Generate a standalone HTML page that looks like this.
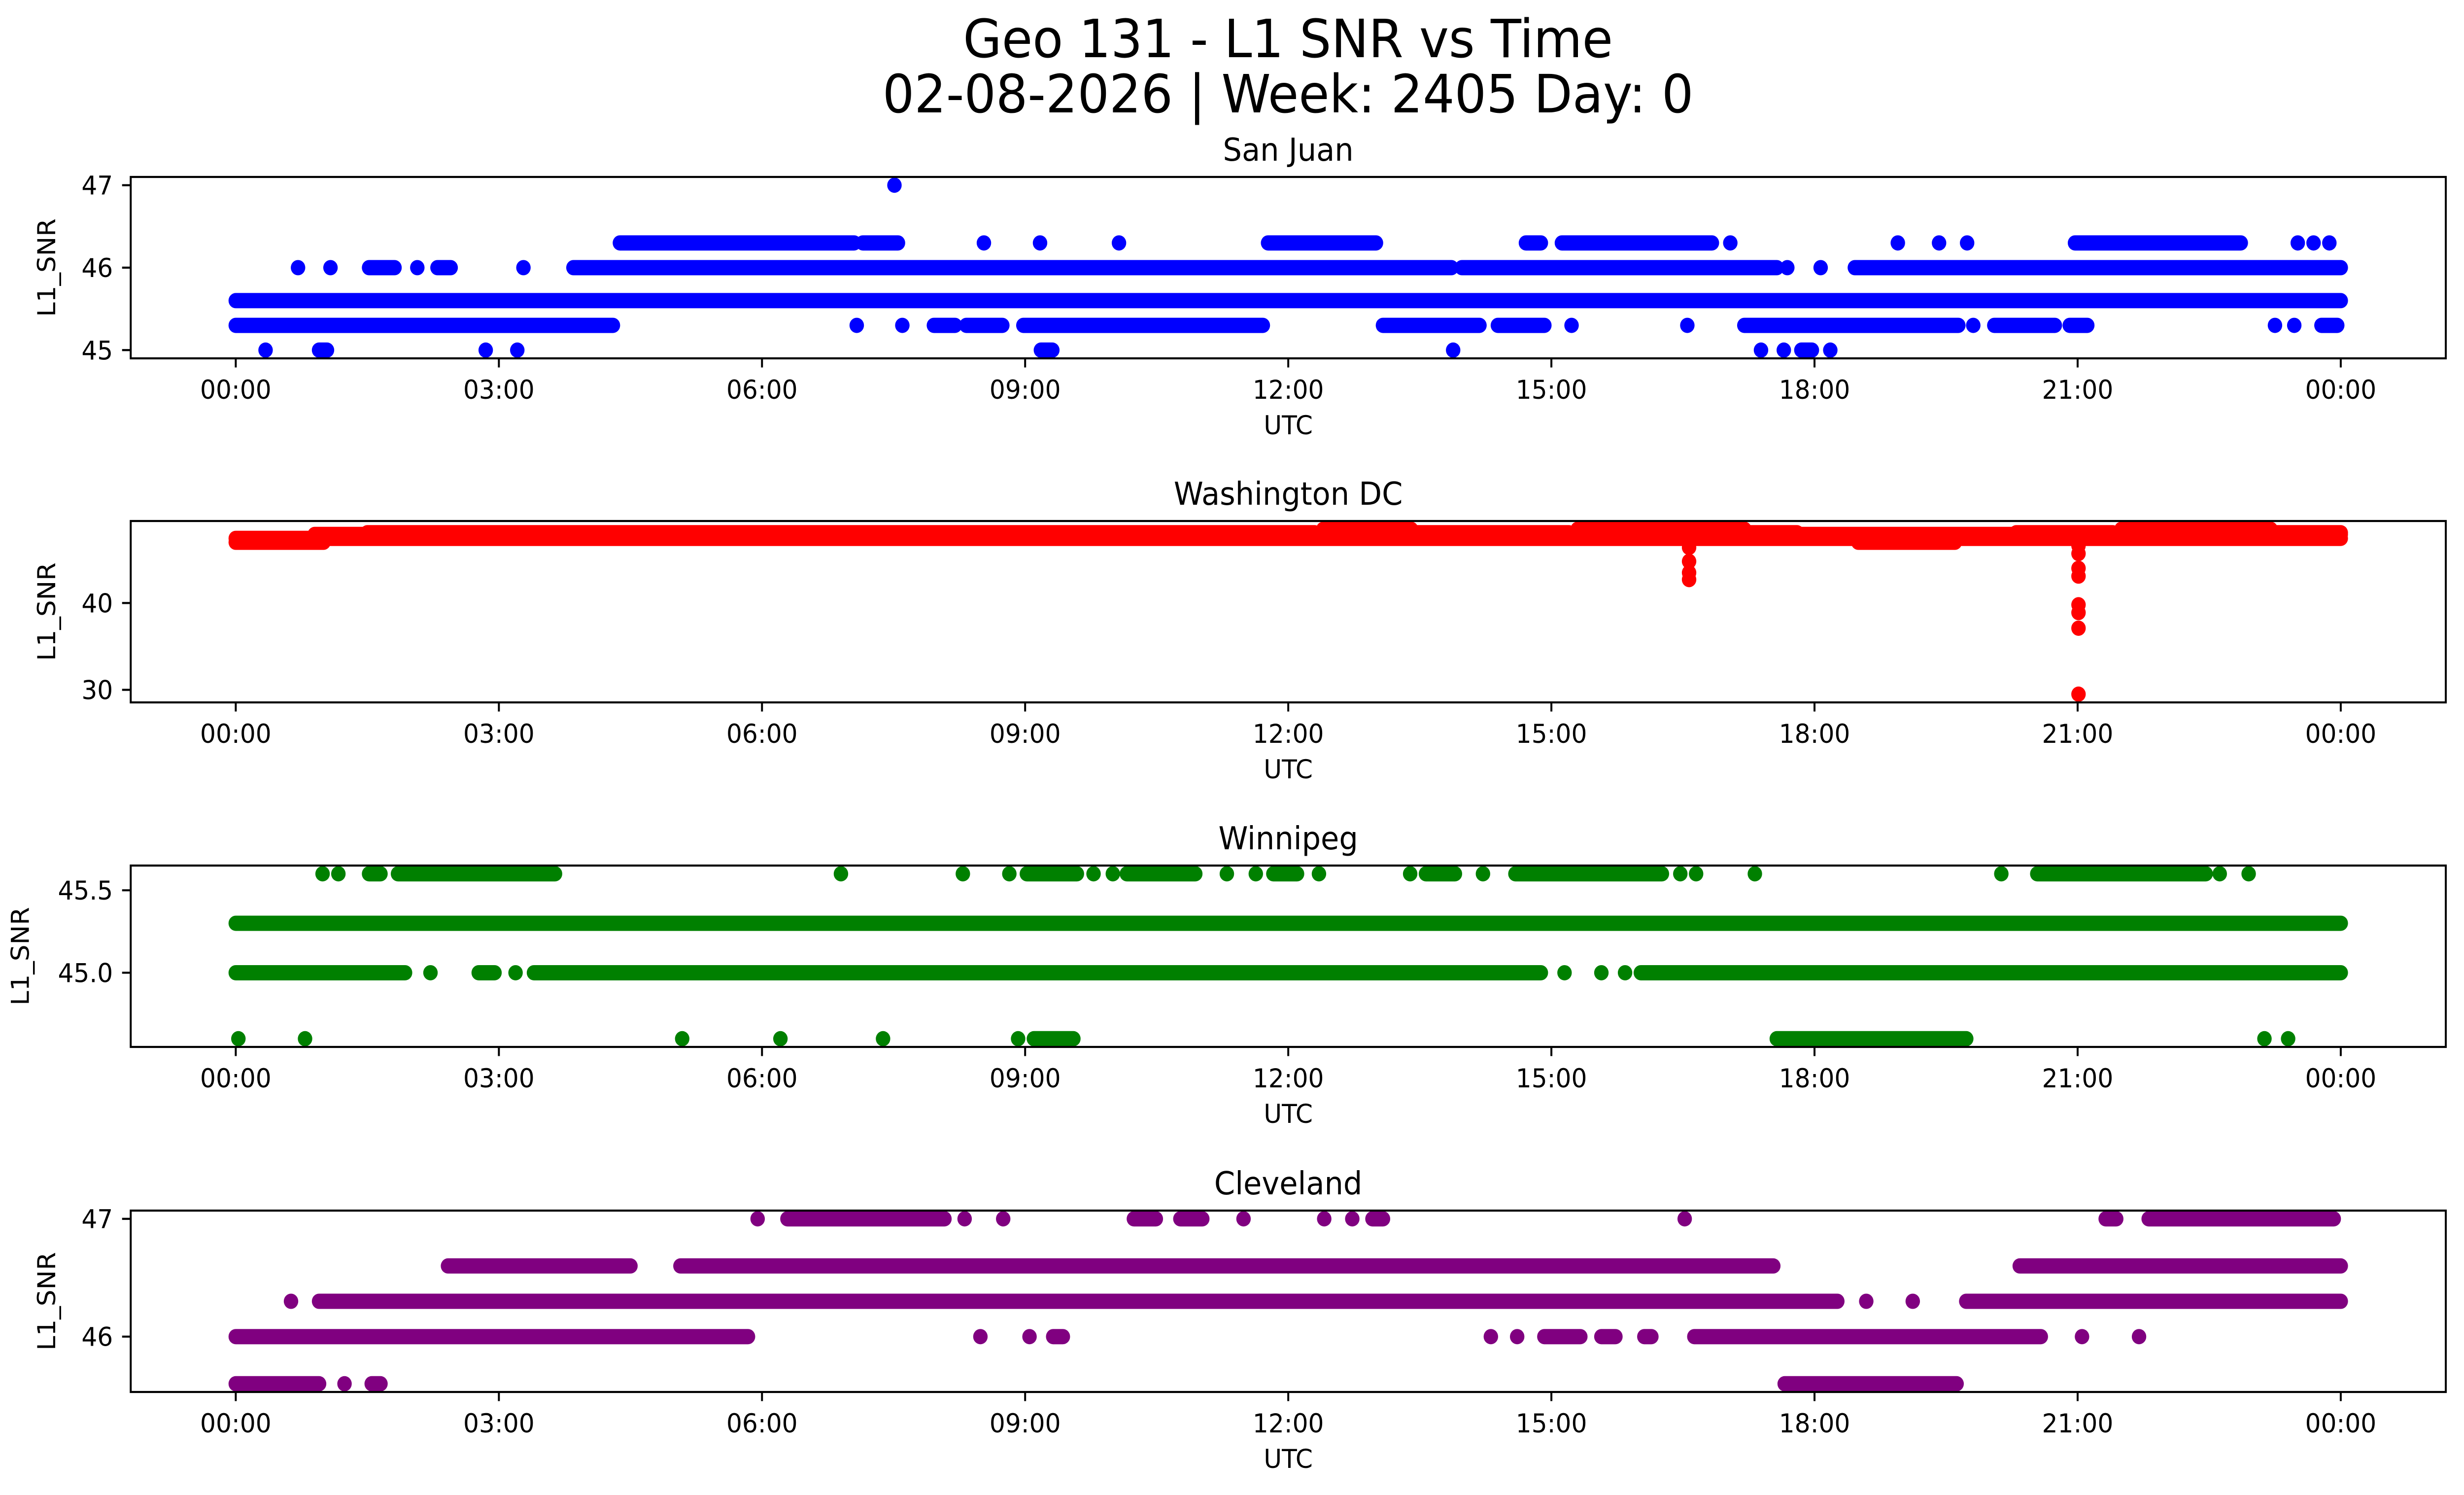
<!DOCTYPE html>
<html>
<head>
<meta charset="utf-8">
<meta name="viewport" content="width=5278, initial-scale=1">
<style>
  html,body{margin:0;padding:0;background:#fff;overflow:hidden;width:100vw;height:100vh;}
  svg{display:block;width:100vw;height:100vh;}
  text{font-family:"DejaVu Sans","Liberation Sans",sans-serif;fill:#000;}
</style>
</head>
<body>
<svg id="fig" viewBox="0 0 5278 3033" preserveAspectRatio="none" xmlns="http://www.w3.org/2000/svg">
  <rect x="0" y="0" width="5278" height="3033" fill="#fff"/>
  <text x="2759" y="116" font-size="107" text-anchor="middle">Geo 131 - L1 SNR vs Time</text>
  <text x="2759" y="228" font-size="107" text-anchor="middle">02-08-2026 | Week: 2405 Day: 0</text>
  <g id="panels"></g>
</svg>
<script>
// ---- shared axis data ----
const xTickHours = [0, 3, 6, 9, 12, 15, 18, 21, 24];
const xTickLabels = ["00:00","03:00","06:00","09:00","12:00","15:00","18:00","21:00","00:00"];

// ---- San Juan (blue) : runs of consecutive samples [startHour, endHour] per SNR level ----
const sjLevels = [45.0, 45.3, 45.6, 46.0, 46.3, 47.0];
const sjRuns45_0 = [[0.34,0.34],[0.95,1.04],[2.85,2.85],[3.21,3.21],[9.18,9.31],[13.88,13.88],[17.39,17.39],[17.65,17.65],[17.85,17.97],[18.18,18.18]];
const sjRuns45_3 = [[0,4.3],[7.08,7.08],[7.6,7.6],[7.96,8.2],[8.33,8.74],[8.98,11.71],[13.08,14.18],[14.39,14.92],[15.23,15.23],[16.55,16.55],[17.2,19.64],[19.81,19.81],[20.05,20.74],[20.91,21.11],[23.25,23.25],[23.47,23.47],[23.78,23.96]];
const sjRuns45_6 = [[0,24]];
const sjRuns46_0 = [[0.71,0.71],[1.08,1.08],[1.52,1.81],[2.07,2.07],[2.3,2.45],[3.28,3.28],[3.85,13.86],[13.98,17.57],[17.69,17.69],[18.07,18.07],[18.46,24]];
const sjRuns46_3 = [[4.38,7.05],[7.15,7.55],[8.53,8.53],[9.17,9.17],[10.07,10.07],[11.77,13.0],[14.71,14.88],[15.12,16.83],[17.04,17.04],[18.95,18.95],[19.42,19.42],[19.74,19.74],[20.97,22.86],[23.51,23.51],[23.69,23.69],[23.87,23.87]];
const sjRuns47_0 = [[7.51,7.51]];
const sjRuns = [sjRuns45_0, sjRuns45_3, sjRuns45_6, sjRuns46_0, sjRuns46_3, sjRuns47_0];
const sjYTicks = [45, 46, 47];
const sjYTickLabels = ["45","46","47"];

// ---- Washington DC (red) ----
const dcLevels = [47.0, 47.45, 47.9, 48.1, 48.5];
const dcRuns47_0 = [[0,1.0],[18.5,19.6]];
const dcRuns47_45 = [[0,24]];
const dcRuns47_9 = [[0.9,24]];
const dcRuns48_1 = [[1.5,12.3],[13.4,15.2],[17.2,17.8],[20.3,21.4],[23.2,24]];
const dcRuns48_5 = [[12.4,13.4],[15.3,17.2],[21.5,23.2]];
const dcRuns = [dcRuns47_0, dcRuns47_45, dcRuns47_9, dcRuns48_1, dcRuns48_5];
const dcDipHours = [16.57,16.57,16.57,16.57,21.01,21.01,21.01,21.01,21.01,21.01,21.01,21.01];
const dcDipValues = [46.4,44.8,43.5,42.7,46.6,45.7,44.0,43.1,39.8,38.9,37.1,29.5];
const dcYTicks = [30, 40];
const dcYTickLabels = ["30","40"];

// ---- Winnipeg (green) ----
const wpLevels = [44.6, 45.0, 45.3, 45.6];
const wpRuns44_6 = [[0.03,0.03],[0.79,0.79],[5.09,5.09],[6.21,6.21],[7.38,7.38],[8.92,8.92],[9.1,9.55],[17.57,19.73],[23.13,23.13],[23.4,23.4]];
const wpRuns45_0 = [[0,1.93],[2.22,2.22],[2.77,2.95],[3.19,3.19],[3.4,14.88],[15.15,15.15],[15.57,15.57],[15.84,15.84],[16.02,24]];
const wpRuns45_3 = [[0,24]];
const wpRuns45_6 = [[0.99,0.99],[1.17,1.17],[1.52,1.65],[1.85,3.64],[6.9,6.9],[8.29,8.29],[8.82,8.82],[9.02,9.59],[9.78,9.78],[10.0,10.0],[10.16,10.94],[11.3,11.3],[11.63,11.63],[11.83,12.1],[12.35,12.35],[13.39,13.39],[13.57,13.9],[14.22,14.22],[14.59,16.26],[16.47,16.47],[16.65,16.65],[17.32,17.32],[20.13,20.13],[20.54,22.46],[22.62,22.62],[22.95,22.95]];
const wpRuns = [wpRuns44_6, wpRuns45_0, wpRuns45_3, wpRuns45_6];
const wpYTicks = [45.0, 45.5];
const wpYTickLabels = ["45.0","45.5"];

// ---- Cleveland (purple) ----
const clLevels = [45.6, 46.0, 46.3, 46.6, 47.0];
const clRuns45_6 = [[0,0.95],[1.24,1.24],[1.55,1.65],[17.66,19.62]];
const clRuns46_0 = [[0,5.84],[8.49,8.49],[9.05,9.05],[9.32,9.43],[14.31,14.31],[14.61,14.61],[14.92,15.33],[15.57,15.73],[16.06,16.14],[16.63,20.58],[21.05,21.05],[21.7,21.7]];
const clRuns46_3 = [[0.63,0.63],[0.95,18.26],[18.59,18.59],[19.12,19.12],[19.73,24]];
const clRuns46_6 = [[2.42,4.5],[5.07,17.53],[20.34,24]];
const clRuns47_0 = [[5.95,5.95],[6.29,8.08],[8.31,8.31],[8.75,8.75],[10.24,10.49],[10.77,11.02],[11.49,11.49],[12.41,12.41],[12.73,12.73],[12.96,13.08],[16.52,16.52],[21.32,21.44],[21.81,23.92]];
const clRuns = [clRuns45_6, clRuns46_0, clRuns46_3, clRuns46_6, clRuns47_0];
const clYTicks = [46, 47];
const clYTickLabels = ["46","47"];

// ---- layout ----
const NS = "http://www.w3.org/2000/svg";
const AX_L = 280, AX_R = 5239, AX_H = 368, R = 15.5;
const X0 = 505, X24 = 5014;
function xScale(h){ return X0 + h * (X24 - X0) / 24; }

function mk(tag, attrs, parent){
  const el = document.createElementNS(NS, tag);
  for (const k in attrs) el.setAttribute(k, attrs[k]);
  parent.appendChild(el);
  return el;
}

function drawPanel(opts){
  const root = document.getElementById("panels");
  const g = mk("g", {}, root);
  
  
  const top = opts.top, bottom = top + AX_H;

  let vals = opts.levels.slice();
  if (opts.extraValues) vals = vals.concat(opts.extraValues);
  const mn = Math.min.apply(null, vals), mx = Math.max.apply(null, vals);
  const pad = (mx - mn) * 0.05;
  const lo = mn - pad, hi = mx + pad;
  const yScale = v => bottom - (v - lo) / (hi - lo) * AX_H;

  const clipId = "clip-" + opts.slug;
  const cp = mk("clipPath", {id: clipId}, g);
  mk("rect", {x: AX_L, y: top, width: AX_R - AX_L, height: AX_H}, cp);

  const marks = mk("g", {"clip-path": "url(#" + clipId + ")"}, g);
  
  

  opts.levels.forEach((lv, i) => {
    const y = yScale(lv);
    opts.runs[i].forEach(run => {
      if (run[0] === run[1]) {
        const c = mk("circle", {cx: xScale(run[0]), cy: y, r: R, fill: opts.color}, marks);
        
        
      } else {
        const l = mk("line", {x1: xScale(run[0]), y1: y, x2: xScale(run[1]), y2: y, stroke: opts.color, "stroke-width": 2 * R, "stroke-linecap": "round"}, marks);
        
        
      }
    });
  });
  if (opts.extraHours) {
    opts.extraHours.forEach((h, i) => {
      const c = mk("circle", {cx: xScale(h), cy: yScale(opts.extraValues[i]), r: R, fill: opts.color}, marks);
      
      
    });
  }

  const frame = mk("rect", {x: AX_L, y: top, width: AX_R - AX_L, height: AX_H, fill: "none", stroke: "#000", "stroke-width": 4.2}, g);
  
  

  const xt = mk("g", {}, g);
  
  
  xTickHours.forEach((h, i) => {
    const x = xScale(h);
    mk("line", {x1: x, y1: bottom, x2: x, y2: bottom + 18.5, stroke: "#000", "stroke-width": 4.2}, xt);
    const t = mk("text", {x: x, y: bottom + 82, "font-size": 53, "text-anchor": "middle"}, xt);
    t.textContent = xTickLabels[i];
    
    
  });
  const xl = mk("text", {x: (AX_L + AX_R) / 2, y: bottom + 154, "font-size": 53, "text-anchor": "middle"}, g);
  xl.textContent = "UTC";
  
  

  const yt = mk("g", {}, g);
  
  
  opts.yTicks.forEach((v, i) => {
    const y = yScale(v);
    mk("line", {x1: AX_L, y1: y, x2: AX_L - 18.5, y2: y, stroke: "#000", "stroke-width": 4.2}, yt);
    const t = mk("text", {x: AX_L - 38, y: y + 19, "font-size": 53, "text-anchor": "end"}, yt);
    t.textContent = opts.yTickLabels[i];
    
    
  });
  const yl = mk("text", {x: 0, y: 0, "font-size": 53, "text-anchor": "middle", transform: "translate(" + opts.ylabelX + "," + (top + AX_H / 2) + ") rotate(-90)"}, g);
  yl.textContent = "L1_SNR";
  
  

  const tt = mk("text", {x: (AX_L + AX_R) / 2, y: top - 33, "font-size": 64, "text-anchor": "middle"}, g);
  tt.textContent = opts.title;
  
  
}

drawPanel({slug: "san-juan", title: "San Juan", top: 359, color: "#0000ff", levels: sjLevels, runs: sjRuns, yTicks: sjYTicks, yTickLabels: sjYTickLabels, ylabelX: 118});
drawPanel({slug: "washington-dc", title: "Washington DC", top: 1057, color: "#ff0000", levels: dcLevels, runs: dcRuns, extraHours: dcDipHours, extraValues: dcDipValues, yTicks: dcYTicks, yTickLabels: dcYTickLabels, ylabelX: 118});
drawPanel({slug: "winnipeg", title: "Winnipeg", top: 1756, color: "#008000", levels: wpLevels, runs: wpRuns, yTicks: wpYTicks, yTickLabels: wpYTickLabels, ylabelX: 62});
drawPanel({slug: "cleveland", title: "Cleveland", top: 2456, color: "#800080", levels: clLevels, runs: clRuns, yTicks: clYTicks, yTickLabels: clYTickLabels, ylabelX: 118});
</script>
</body>
</html>
